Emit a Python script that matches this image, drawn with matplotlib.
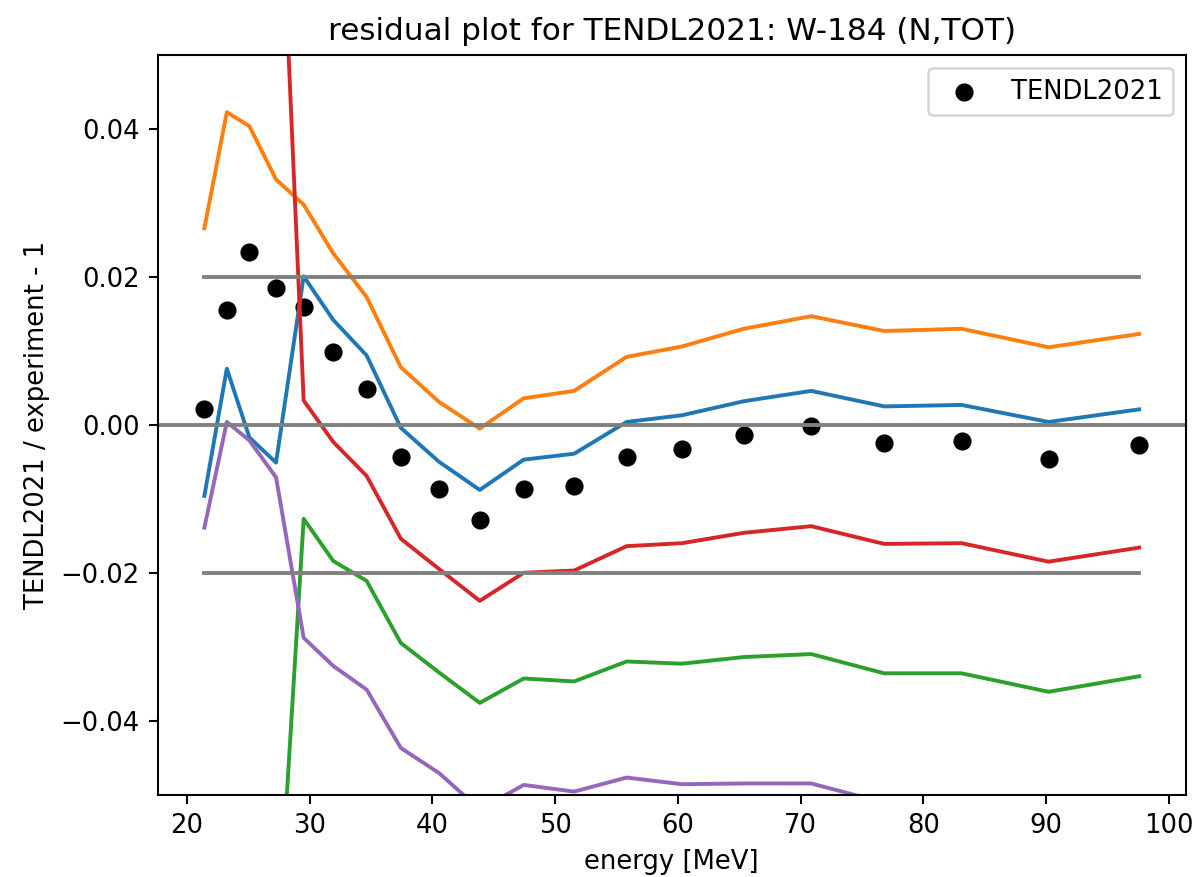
import matplotlib
matplotlib.use("Agg")
import matplotlib.pyplot as plt
import numpy as np

# energies of the experimental points [MeV]
energy = [21.42, 23.25, 25.09, 27.26, 29.51, 31.92, 34.64, 37.43, 40.55, 43.86,
          47.44, 51.55, 55.83, 60.33, 65.37, 70.87, 76.82, 83.12, 90.21, 97.59]

# TENDL2021 / experiment - 1
resid = [0.0021, 0.0156, 0.0234, 0.0185, 0.0159, 0.0099, 0.0049, -0.0043, -0.0087, -0.0129,
         -0.0087, -0.0082, -0.0043, -0.0032, -0.0014, -0.0002, -0.0025, -0.0022, -0.0046, -0.0027]

# band curves
blue = [-0.0096, 0.0076, -0.0017, -0.0051, 0.0201, 0.0142, 0.0094, -0.0004, -0.0050, -0.0088,
        -0.0047, -0.0039, 0.0004, 0.0013, 0.0032, 0.0046, 0.0025, 0.0027, 0.0004, 0.0021]
orange = [0.0266, 0.0423, 0.0404, 0.0332, 0.0298, 0.0232, 0.0173, 0.0078, 0.0031, -0.0005,
          0.0036, 0.0046, 0.0092, 0.0106, 0.0130, 0.0147, 0.0127, 0.0130, 0.0105, 0.0123]
green = [-0.085, -0.080, -0.078, -0.074, -0.0127, -0.0184, -0.0211, -0.0295, -0.0335, -0.0376,
         -0.0343, -0.0347, -0.0320, -0.0323, -0.0314, -0.0310, -0.0336, -0.0336, -0.0361, -0.0340]
red = [0.095, 0.098, 0.093, 0.089, 0.0033, -0.0023, -0.0069, -0.0154, -0.0195, -0.0238,
       -0.0200, -0.0197, -0.0164, -0.0160, -0.0146, -0.0137, -0.0161, -0.0160, -0.0185, -0.0166]
purple = [-0.0139, 0.0004, -0.0021, -0.0071, -0.0288, -0.0326, -0.0358, -0.0437, -0.0471, -0.0520,
          -0.0487, -0.0496, -0.0477, -0.0486, -0.0485, -0.0485, -0.0511, -0.0525, -0.0535, -0.0530]

fig, ax = plt.subplots(figsize=(6.4, 4.7), dpi=186.6)
fig.subplots_adjust(left=0.132, right=0.993, top=0.937, bottom=0.094)

ax.scatter(energy, resid, color='black', label='TENDL2021')
ax.plot(energy, blue)
ax.plot(energy, orange)
ax.plot(energy, green)
ax.plot(energy, red)
ax.plot(energy, purple)

ax.axhline(0.0, color='grey')
ax.plot([energy[0], energy[-1]], [0.02, 0.02], color='grey')
ax.plot([energy[0], energy[-1]], [-0.02, -0.02], color='grey')

ax.set_ylim(-0.05, 0.05)
ax.set_xlabel('energy [MeV]')
ax.set_ylabel('TENDL2021 / experiment - 1')
ax.set_title('residual plot for TENDL2021: W-184 (N,TOT)')
ax.legend(loc='upper right')

fig.savefig('out.png')
